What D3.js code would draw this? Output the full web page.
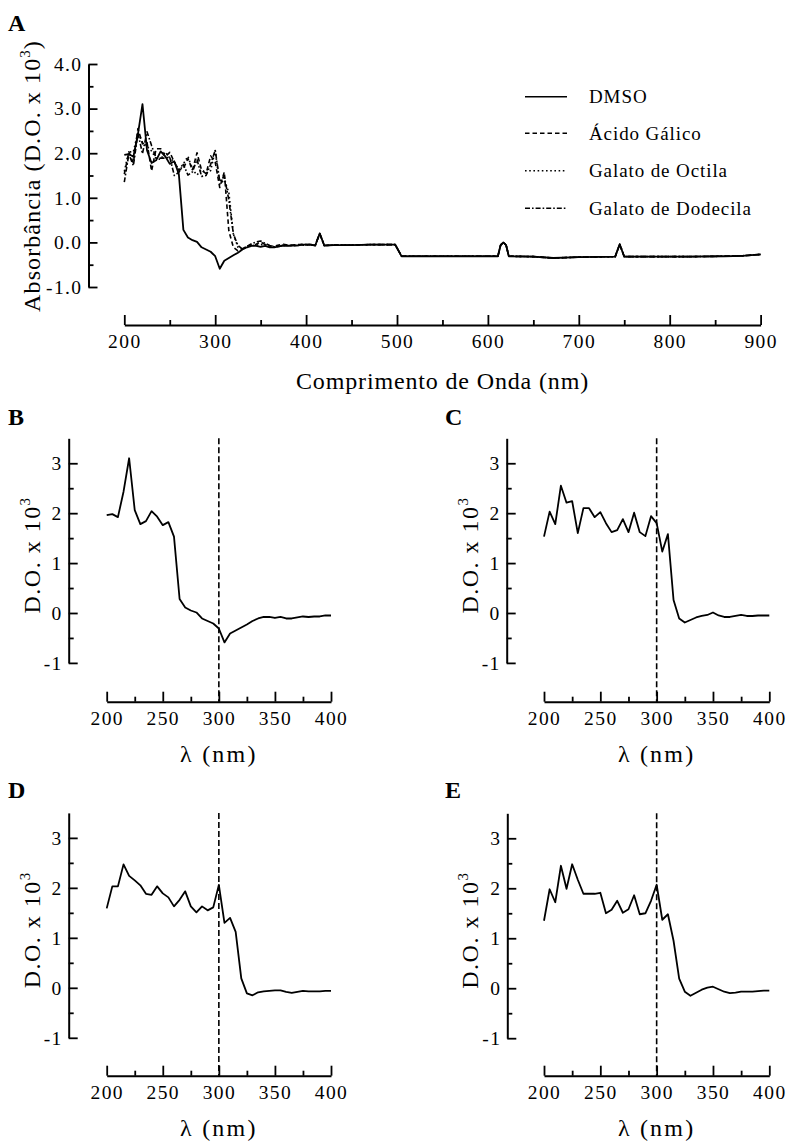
<!DOCTYPE html>
<html>
<head>
<meta charset="utf-8">
<script src="https://cdn.jsdelivr.net/npm/d3@7"></script>
<style>
  body { margin: 0; background: #fff; }
  text { font-family: "Liberation Serif", "Times New Roman", serif; fill: #000; }
</style>
</head>
<body>
<svg id="fig" width="786" height="1142"></svg>
<script>
// Wavelengths of the 200–400 nm scans (nm)
const nm = [200,205,210,215,220,225,230,235,240,245,250,255,260,265,270,275,280,285,290,295,
            300,305,310,315,320,325,330,335,340,345,350,355,360,365,370,375,380,385,390,395,400];

// Optical density (x 10^3) of each sample over 200–400 nm
const odDMSO = [1.96,1.98,1.92,2.43,3.10,2.06,1.78,1.84,2.04,1.93,1.76,1.82,1.53,0.28,0.11,0.05,0.01,-0.11,-0.16,-0.21,
                -0.31,-0.59,-0.41,-0.35,-0.29,-0.23,-0.16,-0.11,-0.08,-0.08,-0.10,-0.08,-0.11,-0.11,-0.09,-0.07,-0.08,-0.07,-0.07,-0.05,-0.05];
const odGalico = [1.53,2.03,1.78,2.55,2.21,2.24,1.60,2.10,2.10,1.92,2.02,1.80,1.62,1.66,1.88,1.62,2.01,1.62,1.54,1.94,
                  1.80,1.23,1.58,0.26,-0.11,-0.19,-0.14,-0.09,-0.06,-0.04,0.01,-0.05,-0.08,-0.08,-0.06,-0.04,-0.06,-0.06,-0.05,-0.05,-0.05];
const odOctila = [1.59,2.03,2.03,2.47,2.24,2.15,2.05,1.88,1.86,2.03,1.89,1.81,1.63,1.76,1.93,1.63,1.51,1.63,1.55,1.61,
                  2.06,1.30,1.40,1.12,0.19,-0.11,-0.15,-0.09,-0.07,-0.06,-0.05,-0.05,-0.08,-0.10,-0.08,-0.06,-0.07,-0.07,-0.07,-0.06,-0.06];
const odDodecila = [1.35,1.98,1.72,2.45,1.99,2.48,2.17,1.89,1.89,1.89,1.91,1.50,1.57,1.75,1.51,1.58,1.86,1.48,1.50,1.75,
                    2.07,1.37,1.48,0.95,0.19,-0.07,-0.15,-0.09,-0.03,0.01,0.03,-0.02,-0.07,-0.10,-0.09,-0.07,-0.07,-0.07,-0.06,-0.05,-0.05];

// Full-range scan beyond 400 nm (common to all samples)
const tailNm = [405,410,415,420,430,450,470,490,498,505,530,560,590,611,614,617,620,623,
                650,672,700,740,745,750,780,820,860,880,900];
const tailOD = [-0.05,-0.07,0.20,-0.07,-0.06,-0.06,-0.05,-0.05,-0.05,-0.31,-0.31,-0.31,-0.31,-0.31,-0.06,0.00,-0.06,-0.31,
                -0.32,-0.35,-0.33,-0.32,-0.04,-0.32,-0.32,-0.32,-0.31,-0.30,-0.27];

const seriesNames = ["DMSO", "Ácido Gálico", "Galato de Octila", "Galato de Dodecila"];
const seriesOD = [odDMSO, odGalico, odOctila, odDodecila];
const seriesDash = [null, "4.5,3", "1.6,2.6", "5,2,1.6,2"];

// Tick values
const xTicksA = [200,300,400,500,600,700,800,900];
const xMinorA = [250,350,450,550,650,750,850];
const yTicksA = [-1,0,1,2,3,4];
const yMinorA = [-0.5,0.5,1.5,2.5,3.5];
const xTicksP = [200,250,300,350,400];
const xMinorP = [225,275,325,375];
const yTicksP = [-1,0,1,2,3];
const yMinorP = [-0.5,0.5,1.5,2.5];

const svg = d3.select("#fig");

function addText(g, x, y, str, size, opts = {}) {
  const t = g.append("text")
    .attr("x", x).attr("y", y)
    .attr("font-size", size)
    .attr("letter-spacing", opts.ls ?? 0)
    .attr("text-anchor", opts.anchor ?? "start")
    .attr("font-weight", opts.bold ? "bold" : null)
    .text(str);
  if (opts.rotate) t.attr("transform", `rotate(-90,${x},${y})`);
  return t;
}

// text with a superscript 3 before the closing parenthesis
function addSupText(g, x, y, before, after, size, opts = {}) {
  const t = g.append("text")
    .attr("x", x).attr("y", y)
    .attr("font-size", size)
    .attr("letter-spacing", opts.ls ?? 0)
    .attr("text-anchor", "middle");
  t.append("tspan").text(before);
  t.append("tspan").attr("font-size", size * 0.62).attr("dy", -size * 0.42).text("3");
  if (after) t.append("tspan").attr("dy", size * 0.42).text(after);
  if (opts.rotate) t.attr("transform", `rotate(-90,${x},${y})`);
  return t;
}

function drawAxes(g, x, y, xAxisY, yAxisX, xt, xm, yt, ym, fmtY, fs) {
  g.append("g").attr("transform", `translate(0,${xAxisY})`)
    .call(d3.axisBottom(x).tickValues(xt).tickSize(-10).tickSizeOuter(0).tickPadding(9).tickFormat(d3.format("d")));
  g.append("g").attr("transform", `translate(0,${xAxisY})`)
    .call(d3.axisBottom(x).tickValues(xm).tickSize(-5).tickSizeOuter(0).tickFormat(""))
    .call(s => s.select(".domain").remove());
  g.append("g").attr("transform", `translate(${yAxisX},0)`)
    .call(d3.axisLeft(y).tickValues(yt).tickSize(-9).tickSizeOuter(0).tickPadding(6).tickFormat(fmtY));
  g.append("g").attr("transform", `translate(${yAxisX},0)`)
    .call(d3.axisLeft(y).tickValues(ym).tickSize(-5).tickSizeOuter(0).tickFormat(""))
    .call(s => s.select(".domain").remove());
  g.selectAll(".domain").attr("stroke", "#000").attr("stroke-width", 2);
  g.selectAll(".tick line").attr("stroke", "#000").attr("stroke-width", 1.8);
  g.selectAll(".tick text")
    .attr("font-family", '"Liberation Serif","Times New Roman",serif')
    .attr("font-size", fs).attr("letter-spacing", 1.4).attr("fill", "#000");
}

// ---------- Panel A: full spectrum 200–900 nm ----------
{
  const g = svg.append("g");
  const x = d3.scaleLinear().domain([200, 900]).range([124.3, 760.6]);
  const y = d3.scaleLinear().domain([-1, 4]).range([287, 64]);
  drawAxes(g, x, y, 325, 88.5, xTicksA, xMinorA, yTicksA, yMinorA, d => d.toFixed(1), 19.5);

  const line = d3.line().x(d => x(d[0])).y(d => y(d[1]));
  // draw the sample curves first, DMSO on top
  [1, 2, 3, 0].forEach(i => {
    const pts = nm.map((w, k) => [w, seriesOD[i][k]]).concat(tailNm.map((w, k) => [w, tailOD[k]]));
    g.append("path").datum(pts)
      .attr("d", line).attr("fill", "none").attr("stroke", "#000")
      .attr("stroke-width", i === 0 ? 1.8 : 1.6)
      .attr("stroke-linejoin", "round")
      .attr("stroke-dasharray", seriesDash[i]);
  });

  // legend
  const rows = [96.7, 133.3, 170.7, 208.3];
  seriesNames.forEach((name, i) => {
    g.append("line").attr("x1", 525).attr("x2", 567).attr("y1", rows[i]).attr("y2", rows[i])
      .attr("stroke", "#000").attr("stroke-width", 1.6).attr("stroke-dasharray", seriesDash[i]);
    addText(g, 589, rows[i] + 6.5, name, 19, { ls: 0.9 });
  });

  addText(g, 8, 31, "A", 24, { bold: true });
  addText(g, 442.5, 389, "Comprimento de Onda (nm)", 24, { anchor: "middle", ls: 0.85 });
  addSupText(g, 40, 176, "Absorbância (D.O. x 10", ")", 24, { rotate: true, ls: 1.1 });
}

// ---------- Panels B–E: 200–400 nm detail ----------
const panels = [
  { label: "B", data: odDMSO,     lx: 8,   ly: 425, x0: 106.7, x1: 331,   yAx: 68.7,  yTop: 438.3, yBot: 662.9, xAxY: 701.7 },
  { label: "C", data: odGalico,   lx: 445, ly: 425, x0: 544,   x1: 769.3, yAx: 506.7, yTop: 438.3, yBot: 662.9, xAxY: 701.7 },
  { label: "D", data: odOctila,   lx: 8,   ly: 798, x0: 106.7, x1: 331,   yAx: 68.7,  yTop: 812.9, yBot: 1037.8, xAxY: 1075.7 },
  { label: "E", data: odDodecila, lx: 445, ly: 798, x0: 544,   x1: 769.3, yAx: 507.3, yTop: 813.3, yBot: 1038.2, xAxY: 1075.7 }
];

panels.forEach(p => {
  const g = svg.append("g");
  const x = d3.scaleLinear().domain([200, 400]).range([p.x0, p.x1]);
  const y = d3.scaleLinear().domain([-1, 3.5]).range([p.yBot, p.yTop]);
  drawAxes(g, x, y, p.xAxY, p.yAx, xTicksP, xMinorP, yTicksP, yMinorP, d => String(d), 19.5);

  // reference line at 300 nm
  g.append("line")
    .attr("x1", x(300)).attr("x2", x(300)).attr("y1", y(3.5)).attr("y2", p.xAxY)
    .attr("stroke", "#000").attr("stroke-width", 1.6).attr("stroke-dasharray", "6,3");

  const line = d3.line().x((d, i) => x(nm[i])).y(d => y(d));
  g.append("path").datum(p.data)
    .attr("d", line).attr("fill", "none").attr("stroke", "#000")
    .attr("stroke-width", 1.8).attr("stroke-linejoin", "round");

  addText(g, p.lx, p.ly, p.label, 24, { bold: true });
  addText(g, (p.x0 + p.x1) / 2, p.xAxY + 60, "λ (nm)", 24, { anchor: "middle", ls: 2.2 });
  addSupText(g, p.yAx - 29, y(0) - 58, "D.O. x 10", "", 24, { rotate: true, ls: 1.5 });
});
</script>
</body>
</html>
